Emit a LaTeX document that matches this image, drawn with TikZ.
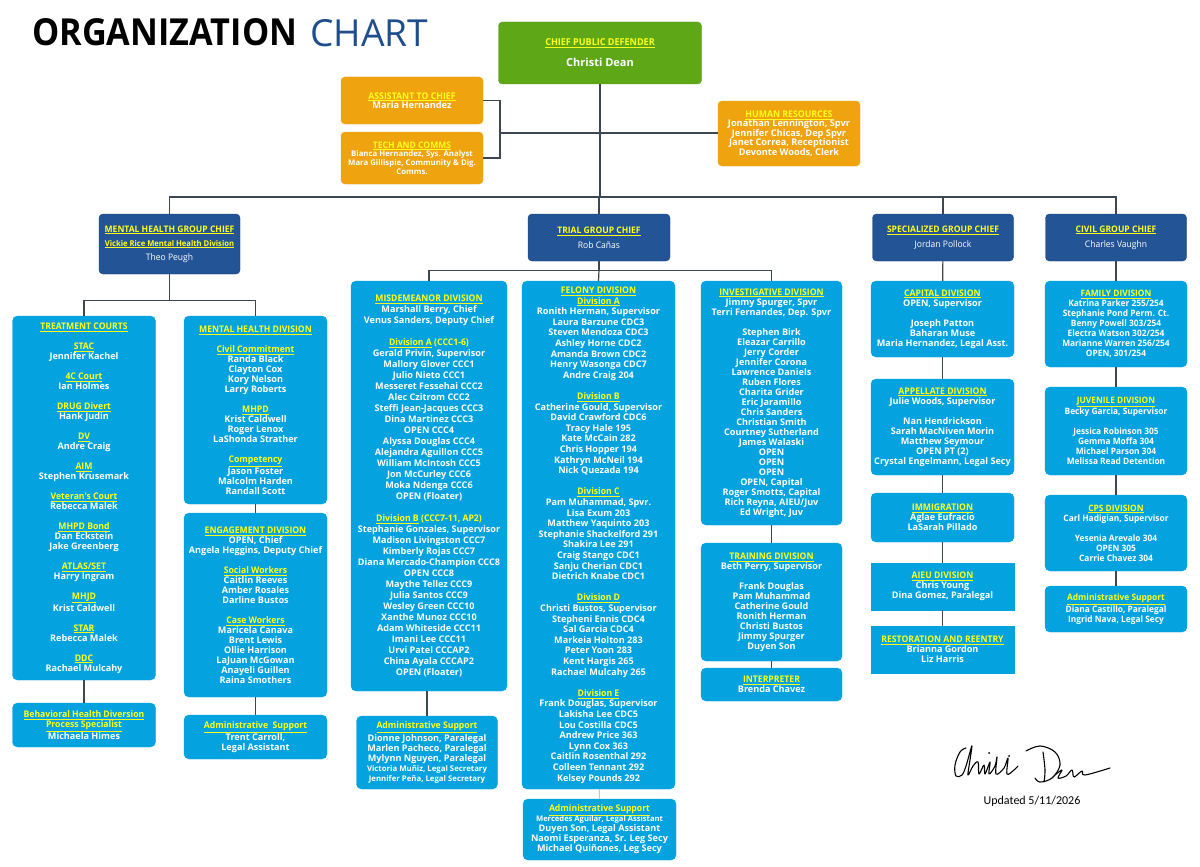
\documentclass[tikz,border=0pt]{standalone}
\usepackage{fontspec}
\setmainfont{Open Sans}
\newfontfamily\condfont[FakeStretch=0.95]{Open Sans}
\newfontfamily\updfont{Carlito}
\usetikzlibrary{positioning}
\definecolor{chiefgreen}{HTML}{5EA818}
\definecolor{staffor}{HTML}{EEA30F}
\definecolor{groupblue}{HTML}{235496}
\definecolor{unitblue}{HTML}{04A3DF}
\definecolor{linegray}{HTML}{3D4752}
\definecolor{hdyellow}{HTML}{FFFF1A}
\definecolor{titleblue}{HTML}{1F4E8C}
\newcommand{\hd}[1]{{\condfont\bfseries\color{hdyellow}\underline{#1}}}
\newcommand{\gap}{\\[\baselineskip]}

\begin{document}
\begin{tikzpicture}[
    x=1pt, y=-1pt,
    chiefbox/.style={fill=chiefgreen, draw=chiefgreen!90!black, rounded corners=4pt, align=center, text=white, font=\bfseries\fontsize{11}{13}\selectfont},
    staffbox/.style={fill=staffor, draw=staffor, rounded corners=4pt, align=center, text=white, inner sep=1pt, font=\bfseries\fontsize{9.2}{9.5}\selectfont},
    groupbox/.style={fill=groupblue, draw=groupblue!75!black, rounded corners=4pt, align=center, text=white, font=\condfont\fontsize{9}{11}\selectfont},
    unitbox/.style={fill=unitblue, draw=unitblue, rounded corners=5pt, align=center, text=white, inner sep=1pt, font=\bfseries\fontsize{9.1}{10}\selectfont},
    squarebox/.style={unitbox, rounded corners=0pt},
    civbox/.style={unitbox, font=\condfont\bfseries\fontsize{8.8}{10}\selectfont},
    link/.style={draw=linegray, line width=1.2pt},
    faintlink/.style={draw=linegray!30, line width=1pt}
]
\fill[white] (0,0) rectangle (1200,867);
\useasboundingbox (0,0) rectangle (1200,867);

% title
\node[anchor=base west, inner sep=0pt] (title) at (32,46)
  {\resizebox{265pt}{27pt}{\bfseries ORGANIZATION}\hspace{13pt}\textcolor{titleblue}{\resizebox{118pt}{27pt}{CHART}}};

% chief and staff
\node[chiefbox, minimum width=203pt, minimum height=62pt] (chief) at (600,53)
  {{\fontsize{9.5}{10}\selectfont\hd{CHIEF PUBLIC DEFENDER}}\\[8pt]Christi Dean};
\node[staffbox, minimum width=142pt, minimum height=47pt] (assist) at (412,100.5)
  {\hd{ASSISTANT TO CHIEF}\\Maria Hernandez};
\node[staffbox, minimum width=142pt, minimum height=52pt, font=\bfseries\fontsize{7.8}{8.7}\selectfont] (tech) at (412,158)
  {{\fontsize{9}{10}\selectfont\hd{TECH AND COMMS}}\\Bianca Hernandez, Sys. Analyst\\Mara Gillispie, Community \& Dig.\\Comms.};
\node[staffbox, minimum width=142pt, minimum height=65pt] (hr) at (789,133.5)
  {\hd{HUMAN RESOURCES}\\Jonathan Lennington, Spvr\\Jennifer Chicas, Dep Spvr\\Janet Correa, Receptionist\\Devonte Woods, Clerk};

% group chiefs
\node[groupbox, minimum width=141pt, minimum height=60pt] (grpmh) at (169.5,244)
  {\hd{MENTAL HEALTH GROUP CHIEF}\\[3pt]{\fontsize{8}{9}\selectfont\hd{Vickie Rice Mental Health Division}}\\[3pt]Theo Peugh};
\node[groupbox, minimum width=142pt, minimum height=47pt] (grptrial) at (599,237.5)
  {\hd{TRIAL GROUP CHIEF}\\[4pt]Rob Cañas};
\node[groupbox, minimum width=141pt, minimum height=47pt] (grpspec) at (943,237.5)
  {\hd{SPECIALIZED GROUP CHIEF}\\[4pt]Jordan Pollock};
\node[groupbox, minimum width=141pt, minimum height=47pt] (grpciv) at (1116,237.5)
  {\hd{CIVIL GROUP CHIEF}\\[4pt]Charles Vaughn};

% mental health group
\node[unitbox, minimum width=143pt, minimum height=364pt] (treat) at (84,498)
  {\hd{TREATMENT COURTS}\gap
   \hd{STAC}\\Jennifer Kachel\gap
   \hd{4C Court}\\Ian Holmes\gap
   \hd{DRUG Divert}\\Hank Judin\gap
   \hd{DV}\\Andre Craig\gap
   \hd{AIM}\\Stephen Krusemark\gap
   \hd{Veteran's Court}\\Rebecca Malek\gap
   \hd{MHPD Bond}\\Dan Eckstein\\Jake Greenberg\gap
   \hd{ATLAS/SET}\\Harry Ingram\gap
   \hd{MHJD}\\Krist Caldwell\gap
   \hd{STAR}\\Rebecca Malek\gap
   \hd{DDC}\\Rachael Mulcahy};
\node[unitbox, minimum width=143pt, minimum height=44pt] (bhd) at (84,725)
  {\hd{Behavioral Health Diversion}\\\hd{Process Specialist}\\Michaela Himes};
\node[unitbox, minimum width=143pt, minimum height=188pt] (mhdiv) at (255.5,410)
  {\hd{MENTAL HEALTH DIVISION}\gap
   \hd{Civil Commitment}\\Randa Black\\Clayton Cox\\Kory Nelson\\Larry Roberts\gap
   \hd{MHPD}\\Krist Caldwell\\Roger Lenox\\LaShonda Strather\gap
   \hd{Competency}\\Jason Foster\\Malcolm Harden\\Randall Scott};
\node[unitbox, minimum width=143pt, minimum height=184pt] (engage) at (255.5,605)
  {\hd{ENGAGEMENT DIVISION}\\OPEN, Chief\\Angela Heggins, Deputy Chief\gap
   \hd{Social Workers}\\Caitlin Reeves\\Amber Rosales\\Darline Bustos\gap
   \hd{Case Workers}\\Maricela Canava\\Brent Lewis\\Ollie Harrison\\LaJuan McGowan\\Anayeli Guillen\\Raina Smothers};
\node[unitbox, minimum width=143pt, minimum height=44pt] (mhadmin) at (255.5,737)
  {\hd{Administrative\ \ Support}\\Trent Carroll,\\Legal Assistant};

% trial group
\node[unitbox, minimum width=156pt, minimum height=410pt, font=\bfseries\fontsize{9.1}{11}\selectfont] (misd) at (429,486)
  {\hd{MISDEMEANOR DIVISION}\\Marshall Berry, Chief\\Venus Sanders, Deputy Chief\gap
   \hd{Division A}\ {\condfont\color{hdyellow}(CCC1-6)}\\Gerald Privin, Supervisor\\Mallory Glover CCC1\\Julio Nieto CCC1\\Messeret Fessehai CCC2\\Alec Czitrom CCC2\\Steffi Jean-Jacques CCC3\\Dina Martinez CCC3\\OPEN CCC4\\Alyssa Douglas CCC4\\Alejandra Aguillon CCC5\\William McIntosh CCC5\\Jon McCurley CCC6\\Moka Ndenga CCC6\\OPEN (Floater)\gap
   \hd{Division B}\ {\condfont\color{hdyellow}(CCC7-11, AP2)}\\Stephanie Gonzales, Supervisor\\Madison Livingston CCC7\\Kimberly Rojas CCC7\\Diana Mercado-Champion CCC8\\OPEN CCC8\\Maythe Tellez CCC9\\Julia Santos CCC9\\Wesley Green CCC10\\Xanthe Munoz CCC10\\Adam Whiteside CCC11\\Imani Lee CCC11\\Urvi Patel CCCAP2\\China Ayala CCCAP2\\OPEN (Floater)};
\node[unitbox, minimum width=141pt, minimum height=73pt] (misdadmin) at (427,752.5)
  {\hd{Administrative Support}\\Dionne Johnson, Paralegal\\Marlen Pacheco, Paralegal\\Mylynn Nguyen, Paralegal\\{\fontsize{7.8}{9.5}\selectfont Victoria Muñiz, Legal Secretary}\\{\fontsize{7.8}{9.5}\selectfont Jennifer Peña, Legal Secretary}};
\node[unitbox, minimum width=153pt, minimum height=508pt, font=\bfseries\fontsize{9.1}{10.6}\selectfont] (felony) at (598.5,535)
  {\hd{FELONY DIVISION}\\\hd{Division A}\\Ronith Herman, Supervisor\\Laura Barzune CDC3\\Steven Mendoza CDC3\\Ashley Horne CDC2\\Amanda Brown CDC2\\Henry Wasonga CDC7\\Andre Craig 204\gap
   \hd{Division B}\\Catherine Gould, Supervisor\\David Crawford CDC6\\Tracy Hale 195\\Kate McCain 282\\Chris Hopper 194\\Kathryn McNeil 194\\Nick Quezada 194\gap
   \hd{Division C}\\Pam Muhammad, Spvr.\\Lisa Exum 203\\Matthew Yaquinto 203\\Stephanie Shackelford 291\\Shakira Lee 291\\Craig Stango CDC1\\Sanju Cherian CDC1\\Dietrich Knabe CDC1\gap
   \hd{Division D}\\Christi Bustos, Supervisor\\Stepheni Ennis CDC4\\Sal Garcia CDC4\\Markeia Holton 283\\Peter Yoon 283\\Kent Hargis 265\\Rachael Mulcahy 265\gap
   \hd{Division E}\\Frank Douglas, Supervisor\\Lakisha Lee CDC5\\Lou Costilla CDC5\\Andrew Price 363\\Lynn Cox 363\\Caitlin Rosenthal 292\\Colleen Tennant 292\\Kelsey Pounds 292};
\node[unitbox, minimum width=153pt, minimum height=61pt] (feladmin) at (599.5,829.5)
  {\hd{Administrative Support}\\{\fontsize{7.6}{9}\selectfont Mercedes Aguilar, Legal Assistant}\\Duyen Son, Legal Assistant\\Naomi Esperanza, Sr. Leg Secy\\Michael Quiñones, Leg Secy};
\node[unitbox, minimum width=141pt, minimum height=244pt] (invest) at (771.5,403)
  {\hd{INVESTIGATIVE DIVISION}\\Jimmy Spurger, Spvr\\Terri Fernandes, Dep. Spvr\gap
   Stephen Birk\\Eleazar Carrillo\\Jerry Corder\\Jennifer Corona\\Lawrence Daniels\\Ruben Flores\\Charita Grider\\Eric Jaramillo\\Chris Sanders\\Christian Smith\\Courtney Sutherland\\James Walaski\\OPEN\\OPEN\\OPEN\\OPEN, Capital\\Roger Smotts, Capital\\Rich Reyna, AIEU/Juv\\Ed Wright, Juv};
\node[unitbox, minimum width=141pt, minimum height=118pt] (training) at (771.5,602)
  {\hd{TRAINING DIVISION}\\Beth Perry, Supervisor\gap
   Frank Douglas\\Pam Muhammad\\Catherine Gould\\Ronith Herman\\Christi Bustos\\Jimmy Spurger\\Duyen Son};
\node[unitbox, minimum width=141pt, minimum height=33pt] (interp) at (771.5,684.5)
  {\hd{INTERPRETER}\\Brenda Chavez};

% specialized group
\node[unitbox, minimum width=143pt, minimum height=76pt] (capital) at (942.5,319)
  {\hd{CAPITAL DIVISION}\\OPEN, Supervisor\gap Joseph Patton\\Baharan Muse\\Maria Hernandez, Legal Asst.};
\node[unitbox, minimum width=143pt, minimum height=96pt] (appellate) at (942.5,427)
  {\hd{APPELLATE DIVISION}\\Julie Woods, Supervisor\gap Nan Hendrickson\\Sarah MacNiven Morin\\Matthew Seymour\\OPEN PT (2)\\Crystal Engelmann, Legal Secy};
\node[unitbox, minimum width=143pt, minimum height=49pt] (immig) at (942.5,517.5)
  {\hd{IMMIGRATION}\\Aglae Eufracio\\LaSarah Pillado};
\node[squarebox, minimum width=143pt, minimum height=47pt] (aieu) at (942.5,586.5)
  {\hd{AIEU DIVISION}\\Chris Young\\Dina Gomez, Paralegal};
\node[squarebox, minimum width=143pt, minimum height=47pt] (restore) at (942.5,649.5)
  {\hd{RESTORATION AND REENTRY}\\Brianna Gordon\\Liz Harris};

% civil group
\node[civbox, minimum width=142pt, minimum height=86pt] (family) at (1116,324)
  {\hd{FAMILY DIVISION}\\Katrina Parker 255/254\\Stephanie Pond Perm. Ct.\\Benny Powell 303/254\\Electra Watson 302/254\\Marianne Warren 256/254\\OPEN, 301/254};
\node[civbox, minimum width=142pt, minimum height=88pt] (juvenile) at (1116,431)
  {\hd{JUVENILE DIVISION}\\Becky Garcia, Supervisor\gap Jessica Robinson 305\\Gemma Moffa 304\\Michael Parson 304\\Melissa Read Detention};
\node[civbox, minimum width=142pt, minimum height=76pt] (cps) at (1116,533)
  {\hd{CPS DIVISION}\\Carl Hadigian, Supervisor\gap Yesenia Arevalo 304\\OPEN 305\\Carrie Chavez 304};
\node[civbox, minimum width=142pt, minimum height=46pt] (civadmin) at (1116,609)
  {\hd{Administrative Support}\\Diana Castillo, Paralegal\\Ingrid Nava, Legal Secy};

% connectors
\coordinate (bus) at (600,197);
\coordinate (staffbus) at (500,133);
\draw[link] (chief.south) -- (bus);
\draw[link] (assist.east) -- (assist.east -| staffbus) -- (tech.east -| staffbus) -- (tech.east);
\draw[link] (staffbus) -- (hr.west |- staffbus);
\draw[link] (grpmh.north) -- (grpmh.north |- bus) -- (grpciv.north |- bus) -- (grpciv.north);
\draw[link] (grptrial.north) -- (grptrial.north |- bus);
\draw[link] (grpspec.north) -- (grpspec.north |- bus);

\draw[link] (grpmh.south) -- ++(0,26) coordinate (mhbus);
\draw[link] (treat.north) |- (mhbus) -| (mhdiv.north);
\draw[link] (treat) -- (bhd);
\draw[link] (mhdiv) -- (engage);
\draw[link] (engage) -- (mhadmin);

\draw[link] (grptrial.south) -- ++(0,9) coordinate (trialbus);
\draw[link] (misd.north) |- (trialbus) -| (invest.north);
\draw[link] (trialbus) -- (felony.north);
\draw[link] (misdadmin.north) -- (misdadmin.north |- misd.south);
\draw[faintlink] (felony) -- (feladmin);
\draw[link] (invest) -- (training);
\draw[link] (training) -- (interp);

\draw[link] (grpspec) -- (capital);
\draw[link] (capital) -- (appellate);
\draw[link] (appellate) -- (immig);
\draw[link] (immig) -- (aieu);
\draw[link] (aieu) -- (restore);

\draw[link] (grpciv) -- (family);
\draw[link] (family) -- (juvenile);
\draw[link] (juvenile) -- (cps);
\draw[link] (cps) -- (civadmin);

% signature
\draw[line width=1.1pt, line cap=round, line join=round] plot[smooth, tension=0.6] coordinates {(966,748) (960,752) (955,765) (956,776) (962,775) (966,766) (970,752) (972,746) (970,760) (968,775) (973,766) (978,762) (979,774) (984,765) (985,774) (990,762) (989,774) (995,766) (997,757) (996,774) (1004,768) (1008,758) (1007,774) (1014,770) (1018,766)};
\fill (989,753) circle (1pt) (1009,756) circle (1pt);
\draw[line width=1.1pt, line cap=round, line join=round] plot[smooth, tension=0.6] coordinates {(1026,751) (1040,746) (1055,752) (1060,765) (1052,778) (1040,782) (1035,778)};
\draw[line width=1.1pt, line cap=round] plot[smooth, tension=0.6] coordinates {(1043,752) (1045,770) (1044,782)};
\draw[line width=1.1pt, line cap=round, line join=round] plot[smooth, tension=0.6] coordinates {(1055,775) (1062,770) (1058,778) (1066,776) (1072,770) (1074,777) (1082,771) (1085,775) (1110,768)};
\node[font=\updfont\fontsize{12}{14}\selectfont] (updated) at (1032,801) {Updated 5/11/2026};
\end{tikzpicture}
\end{document}
